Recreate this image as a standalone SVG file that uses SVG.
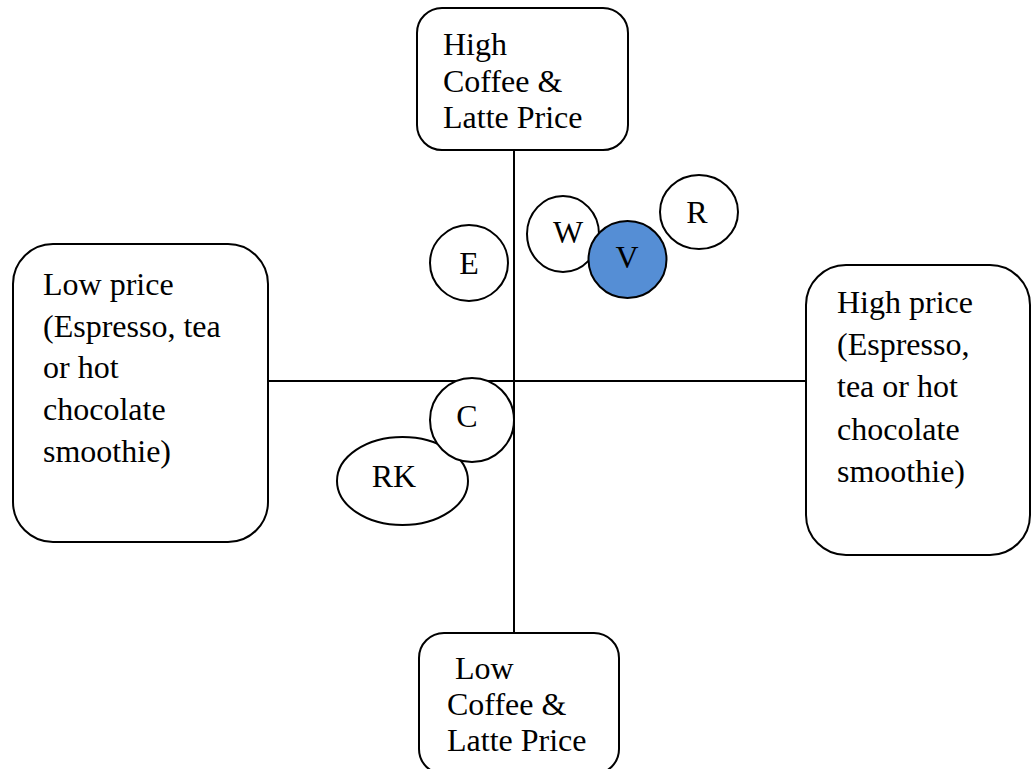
<svg xmlns="http://www.w3.org/2000/svg" width="1031" height="769" viewBox="0 0 1031 769">
<style>
.box{fill:#fff;stroke:#000;stroke-width:2}
.ax{stroke:#000;stroke-width:2;fill:none}
.c{fill:#fff;stroke:#000;stroke-width:2}
.cv{fill:#558ED5;stroke:#000;stroke-width:2}
text{font-family:"Liberation Serif","Times New Roman",serif;font-size:32px;fill:#000}
.m{text-anchor:middle}
</style>
<rect width="1031" height="769" fill="#fff"/>
<g id="connectors">
<line class="ax" x1="514" y1="150" x2="514" y2="633"/>
<line class="ax" x1="268" y1="381" x2="806" y2="381"/>
</g>
<g id="top-box">
<rect class="box" x="417" y="8" width="211" height="142" rx="25"/>
<text x="443" y="55">High</text>
<text x="443" y="92">Coffee &amp;</text>
<text x="443" y="128">Latte Price</text>
</g>
<g id="left-box">
<rect class="box" x="13" y="244" width="255" height="298" rx="40"/>
<text x="43" y="295">Low price</text>
<text x="43" y="337">(Espresso, tea</text>
<text x="43" y="378">or hot</text>
<text x="43" y="420">chocolate</text>
<text x="43" y="462">smoothie)</text>
</g>
<g id="right-box">
<rect class="box" x="806" y="265" width="224" height="290" rx="40"/>
<text x="837" y="313">High price</text>
<text x="837" y="355">(Espresso,</text>
<text x="837" y="397">tea or hot</text>
<text x="837" y="440">chocolate</text>
<text x="837" y="482">smoothie)</text>
</g>
<g id="bottom-box">
<rect class="box" x="419" y="633" width="200" height="141" rx="25"/>
<text x="455" y="679">Low</text>
<text x="447" y="715">Coffee &amp;</text>
<text x="447" y="751">Latte Price</text>
</g>
<g id="E">
<ellipse class="c" cx="469" cy="263" rx="39" ry="38"/>
<text class="m" x="469" y="274">E</text>
</g>
<g id="W">
<ellipse class="c" cx="563" cy="234" rx="36" ry="38"/>
<text class="m" x="568" y="243">W</text>
</g>
<g id="V">
<ellipse class="cv" cx="627.5" cy="259.5" rx="39" ry="38.5"/>
<text class="m" x="627" y="268">V</text>
</g>
<g id="R">
<ellipse class="c" cx="699" cy="212" rx="39" ry="37"/>
<text class="m" x="697" y="223">R</text>
</g>
<g id="RK">
<ellipse class="c" cx="402.5" cy="481" rx="65.5" ry="44"/>
<text class="m" x="394" y="487">RK</text>
</g>
<g id="C">
<ellipse class="c" cx="472" cy="420" rx="42" ry="42"/>
<text class="m" x="467" y="427">C</text>
</g>
</svg>
